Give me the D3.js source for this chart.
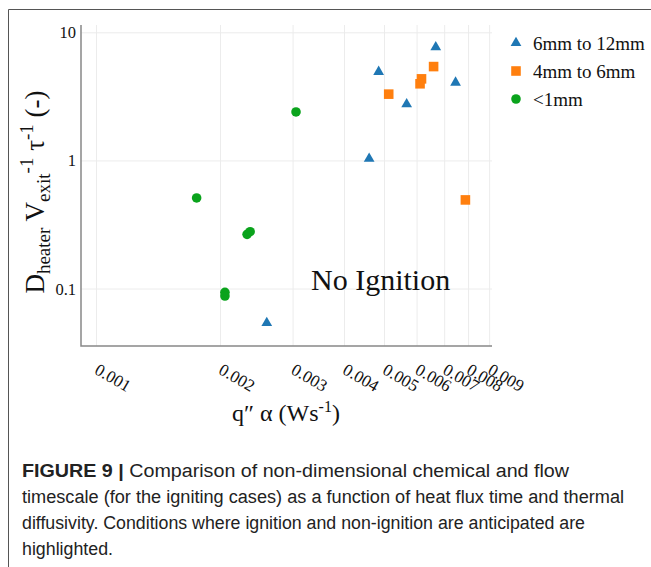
<!DOCTYPE html>
<html>
<head>
<meta charset="utf-8">
<script src="https://cdn.jsdelivr.net/npm/d3@7"></script>
<style>
  body { margin: 0; background: #fff; }
  svg { display: block; }
  .serif { font-family: "Liberation Serif", "Times New Roman", serif; fill: #111; }
  .cap { font-family: "Liberation Sans", Arial, sans-serif; fill: #222; }
</style>
</head>
<body>
<div class="chart"></div>
<script>
// series names (legend order)
let seriesNames = ["6mm to 12mm", "4mm to 6mm", "<1mm"];

// 6mm to 12mm
let bigX = [0.00259, 0.00459, 0.00484, 0.00566, 0.00666, 0.00744];
let bigY = [0.0543, 1.04, 4.96, 2.77, 7.73, 4.09];

// 4mm to 6mm
let midX = [0.00512, 0.00615, 0.0061, 0.00658, 0.00786];
let midY = [3.32, 4.37, 4.0, 5.45, 0.496];

// <1mm
let smallX = [0.00305, 0.00175, 0.00232, 0.00236, 0.00205, 0.00205];
let smallY = [2.41, 0.514, 0.267, 0.28, 0.0942, 0.0882];

let xTicks = [0.001, 0.002, 0.003, 0.004, 0.005, 0.006, 0.007, 0.008, 0.009];
let xTickLabels = ["0.001", "0.002", "0.003", "0.004", "0.005", "0.006", "0.007", "0.008", "0.009"];
let yTicks = [0.1, 1, 10];
let yTickLabels = ["0.1", "1", "10"];

let captionLines = [
    "Comparison of non-dimensional chemical and flow",
    "timescale (for the igniting cases) as a function of heat flux time and thermal",
    "diffusivity. Conditions where ignition and non-ignition are anticipated are",
    "highlighted."
];
// line widths in the printed caption
let captionWidths = [547, 602, 563, 91];

let svgWidth = 651;
let svgHeight = 567;

let plot = { left: 81, right: 492, top: 27, bottom: 346 };

let svg = d3.select(".chart")
    .append("svg")
    .attr("width", svgWidth)
    .attr("height", svgHeight);

// figure frame (top and left rules)
svg.append("path")
    .attr("d", "M8.5,567V9.5H651")
    .attr("fill", "none")
    .attr("stroke", "#555")
    .attr("stroke-width", 1);

let xScale = d3.scaleLog()
    .domain([0.000917, 0.00912])
    .range([plot.left, plot.right]);

let yScale = d3.scaleLog()
    .domain([0.0359, 11.1])
    .range([plot.bottom, plot.top]);

// grid
svg.append("g")
    .selectAll("line")
    .data(xTicks)
    .enter()
    .append("line")
    .attr("x1", d => xScale(d))
    .attr("x2", d => xScale(d))
    .attr("y1", plot.top - 2)
    .attr("y2", plot.bottom)
    .attr("stroke", "#ececec")
    .attr("stroke-width", 1);

svg.append("g")
    .selectAll("line")
    .data(yTicks)
    .enter()
    .append("line")
    .attr("x1", plot.left)
    .attr("x2", plot.right)
    .attr("y1", d => yScale(d))
    .attr("y2", d => yScale(d))
    .attr("stroke", "#ececec")
    .attr("stroke-width", 1);

// axis lines
svg.append("path")
    .attr("d", `M${plot.left},${plot.top - 2}V${plot.bottom}H${plot.right}`)
    .attr("fill", "none")
    .attr("stroke", "#888")
    .attr("stroke-width", 1.5);

// y tick labels
svg.append("g")
    .selectAll("text")
    .data(yTicks)
    .enter()
    .append("text")
    .classed("serif", true)
    .attr("x", plot.left - 5)
    .attr("y", d => yScale(d) + 5.5)
    .attr("text-anchor", "end")
    .attr("font-size", 16.5)
    .text((d, i) => yTickLabels[i]);

// x tick labels, rotated
svg.append("g")
    .selectAll("text")
    .data(xTicks)
    .enter()
    .append("text")
    .classed("serif", true)
    .attr("transform", d => `translate(${xScale(d) - 3}, 373) rotate(30)`)
    .attr("font-size", 17)
    .text((d, i) => xTickLabels[i]);

// markers
let symTri = d3.symbol().type(d3.symbolTriangle).size(50);
let symSq = d3.symbol().type(d3.symbolSquare).size(92);
let symCir = d3.symbol().type(d3.symbolCircle).size(72);

let colors = ["#1f77b4", "#ff7f0e", "#0aa31c"];

svg.append("g")
    .selectAll("path")
    .data(bigX)
    .enter()
    .append("path")
    .attr("d", symTri)
    .attr("transform", (d, i) => `translate(${xScale(d)}, ${yScale(bigY[i])})`)
    .attr("fill", colors[0]);

svg.append("g")
    .selectAll("path")
    .data(midX)
    .enter()
    .append("path")
    .attr("d", symSq)
    .attr("transform", (d, i) => `translate(${xScale(d)}, ${yScale(midY[i])})`)
    .attr("fill", colors[1]);

svg.append("g")
    .selectAll("path")
    .data(smallX)
    .enter()
    .append("path")
    .attr("d", symCir)
    .attr("transform", (d, i) => `translate(${xScale(d)}, ${yScale(smallY[i])})`)
    .attr("fill", colors[2]);

// annotation
svg.append("text")
    .classed("serif", true)
    .attr("x", 311)
    .attr("y", 290)
    .attr("font-size", 30)
    .text("No Ignition");

// legend
let legendSyms = [symTri, symSq, symCir];
let legend = svg.append("g");
seriesNames.forEach(function (name, i) {
    let ly = 43 + i * 28;
    legend.append("path")
        .attr("d", legendSyms[i])
        .attr("transform", `translate(516, ${ly})`)
        .attr("fill", colors[i]);
    legend.append("text")
        .classed("serif", true)
        .attr("x", 533)
        .attr("y", ly + 6.5)
        .attr("font-size", 19)
        .text(name);
});

// x axis title
let xTitle = svg.append("text")
    .classed("serif", true)
    .attr("x", 286)
    .attr("y", 421)
    .attr("text-anchor", "middle")
    .attr("font-size", 24);
xTitle.append("tspan").text("q\u2033 \u03b1 (Ws");
xTitle.append("tspan").attr("font-size", 16).attr("dy", -9).text("-1");
xTitle.append("tspan").attr("dy", 9).text(")");

// y axis title
let yTitle = svg.append("text")
    .classed("serif", true)
    .attr("transform", "translate(44, 192) rotate(-90)")
    .attr("text-anchor", "middle")
    .attr("font-size", 27);
yTitle.append("tspan").text("D");
yTitle.append("tspan").attr("font-size", 19).attr("dy", 6).text("heater");
yTitle.append("tspan").attr("dy", -6).text(" V");
yTitle.append("tspan").attr("font-size", 19).attr("dy", 6).text("exit");
yTitle.append("tspan").attr("font-size", 19).attr("dy", -17).text("-1");
yTitle.append("tspan").attr("dy", 11).text(" \u03c4");
yTitle.append("tspan").attr("font-size", 19).attr("dy", -11).text("-1");
yTitle.append("tspan").attr("dy", 11).text(" (-)");

// caption, each line fitted to the printed line width
let cap = svg.append("g").classed("cap", true).attr("font-size", 18);
captionLines.forEach(function (line, i) {
    let t = cap.append("text")
        .attr("x", 22)
        .attr("y", 477 + i * 26)
        .attr("textLength", captionWidths[i])
        .attr("lengthAdjust", "spacingAndGlyphs");
    if (i === 0) {
        t.append("tspan").attr("font-weight", "bold").text("FIGURE 9 | ");
    }
    t.append("tspan").text(line);
});
</script>
</body>
</html>
